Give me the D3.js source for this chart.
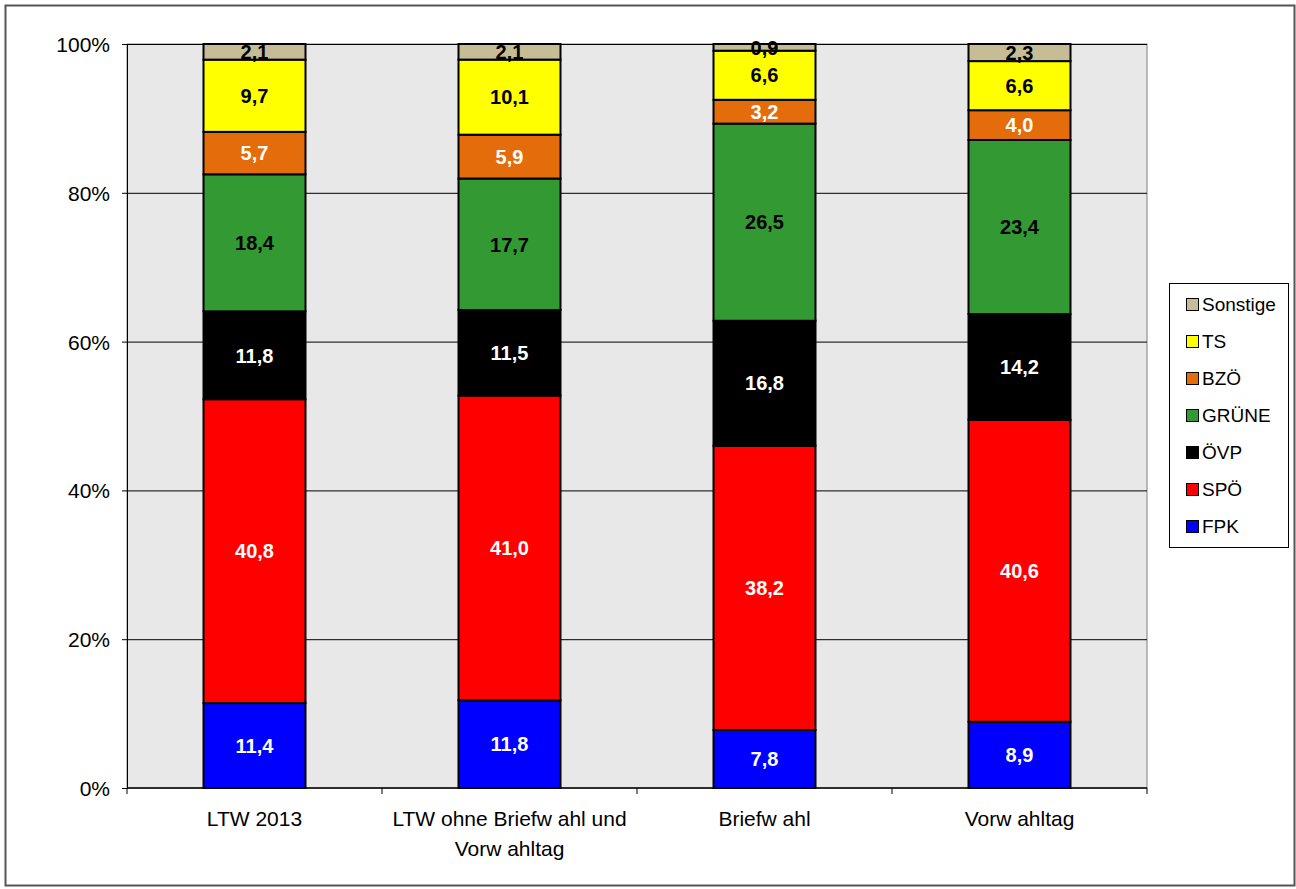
<!DOCTYPE html>
<html>
<head>
<meta charset="utf-8">
<script src="https://cdn.jsdelivr.net/npm/d3@7"></script>
<style>
  body { margin: 0; background: #fff; }
  svg text { font-family: "Liberation Sans", Arial, sans-serif; }
</style>
</head>
<body>
<div id="chart"></div>
<script>
// categories (x axis), each label split in lines
const categories = [
    ["LTW 2013"],
    ["LTW ohne Briefw ahl und", "Vorw ahltag"],
    ["Briefw ahl"],
    ["Vorw ahltag"]
];

// parties, bottom to top
const parties = ["FPK", "SPÖ", "ÖVP", "GRÜNE", "BZÖ", "TS", "Sonstige"];
const partyColors = ["#0000ff", "#ff0000", "#000000", "#339933", "#e46c0a", "#ffff00", "#c6bd97"];
const labelColors = ["#fff", "#fff", "#fff", "#000", "#fff", "#000", "#000"];

// values per category, in party order
const ltw2013 = [11.4, 40.8, 11.8, 18.4, 5.7, 9.7, 2.1];
const ltwOhne = [11.8, 41.0, 11.5, 17.7, 5.9, 10.1, 2.1];
const briefwahl = [7.8, 38.2, 16.8, 26.5, 3.2, 6.6, 0.9];
const vorwahltag = [8.9, 40.6, 14.2, 23.4, 4.0, 6.6, 2.3];
const seriesValues = [ltw2013, ltwOhne, briefwahl, vorwahltag];

const yTicks = [0, 20, 40, 60, 80, 100];

const width = 1296, height = 889;
const margin = { left: 127, right: 149, top: 44, bottom: 101 };

const svg = d3.select('#chart').append('svg')
    .attr('width', width)
    .attr('height', height);

// outer frame
svg.append('rect')
    .attr('x', 5.5).attr('y', 5.5)
    .attr('width', 1289).attr('height', 880)
    .attr('fill', '#fff')
    .attr('stroke', '#555')
    .attr('stroke-width', 2);

const xScale = d3.scaleBand()
    .domain(d3.range(categories.length))
    .range([margin.left, width - margin.right]);

const yScale = d3.scaleLinear()
    .domain([0, 100])
    .range([height - margin.bottom, margin.top]);

// plot background
svg.append('rect')
    .attr('x', margin.left).attr('y', margin.top)
    .attr('width', width - margin.left - margin.right)
    .attr('height', height - margin.top - margin.bottom)
    .attr('fill', '#e8e8e8')
    .attr('stroke', '#808080')
    .attr('stroke-width', 1);

// gridlines
svg.selectAll('.grid')
    .data(yTicks.slice(1))
    .join('line')
    .attr('x1', margin.left).attr('x2', width - margin.right)
    .attr('y1', d => yScale(d) + 0.5).attr('y2', d => yScale(d) + 0.5)
    .attr('stroke', '#000')
    .attr('stroke-width', 1);

// stacked (100%) data
const rows = seriesValues.map(vals => {
    const total = d3.sum(vals);
    let o = {};
    parties.forEach((p, i) => { o[p] = vals[i] / total * 100; o[p + '_raw'] = vals[i]; });
    return o;
});
const stacked = d3.stack().keys(parties)(rows);

const barWidth = 102;
const layers = svg.selectAll('.layer')
    .data(stacked)
    .join('g')
    .attr('fill', (d, i) => partyColors[i]);

layers.selectAll('rect')
    .data(d => d)
    .join('rect')
    .attr('x', (d, j) => xScale(j) + xScale.bandwidth() / 2 - barWidth / 2)
    .attr('y', d => yScale(d[1]))
    .attr('width', barWidth)
    .attr('height', d => yScale(d[0]) - yScale(d[1]))
    .attr('stroke', '#000')
    .attr('stroke-width', 2);

// value labels
stacked.forEach((layer, i) => {
    svg.append('g').selectAll('text')
        .data(layer)
        .join('text')
        .attr('x', (d, j) => xScale(j) + xScale.bandwidth() / 2)
        .attr('y', d => (yScale(d[0]) + yScale(d[1])) / 2)
        .attr('dy', '0.36em')
        .attr('text-anchor', 'middle')
        .attr('font-size', 20)
        .attr('font-weight', 'bold')
        .attr('fill', labelColors[i])
        .text(d => d3.format('.1f')(d.data[parties[i] + '_raw']).replace('.', ','));
});

// y axis
const yAxis = svg.append('g')
    .attr('transform', `translate(${margin.left},0)`)
    .call(d3.axisLeft(yScale).tickValues(yTicks).tickSize(5).tickFormat(d => d + '%'));
yAxis.select('.domain').attr('stroke', '#000');
yAxis.selectAll('.tick line').attr('stroke', '#000');
yAxis.selectAll('.tick text')
    .attr('x', -17)
    .attr('dy', '0.36em')
    .attr('font-size', 21)
    .attr('font-family', '"Liberation Sans", Arial, sans-serif')
    .attr('fill', '#000');

// x axis
const xAxisY = height - margin.bottom;
svg.append('line')
    .attr('x1', margin.left).attr('x2', width - margin.right)
    .attr('y1', xAxisY).attr('y2', xAxisY)
    .attr('stroke', '#000').attr('stroke-width', 1.5);
svg.selectAll('.xtick')
    .data(d3.range(categories.length + 1))
    .join('line')
    .attr('x1', d => d < categories.length ? xScale(d) : xScale(d - 1) + xScale.bandwidth())
    .attr('x2', d => d < categories.length ? xScale(d) : xScale(d - 1) + xScale.bandwidth())
    .attr('y1', xAxisY).attr('y2', xAxisY + 6)
    .attr('stroke', '#000');

svg.selectAll('.xlabel')
    .data(categories)
    .join('text')
    .attr('x', (d, j) => xScale(j) + xScale.bandwidth() / 2)
    .attr('y', xAxisY + 38)
    .attr('text-anchor', 'middle')
    .attr('font-size', 21)
    .attr('fill', '#000')
    .selectAll('tspan')
    .data(d => d)
    .join('tspan')
    .attr('x', function() { return this.parentNode.getAttribute('x'); })
    .attr('dy', (d, k) => k === 0 ? 0 : 30)
    .text(d => d);

// legend
const legend = svg.append('g');
legend.append('rect')
    .attr('x', 1169.5).attr('y', 283.5)
    .attr('width', 119).attr('height', 264)
    .attr('fill', '#fff')
    .attr('stroke', '#000');

const legendItems = parties.slice().reverse();
const legendY = d3.scaleLinear().domain([0, legendItems.length - 1]).range([304.5, 526.5]);
const li = legend.selectAll('.li')
    .data(legendItems)
    .join('g')
    .attr('transform', (d, k) => `translate(1186,${legendY(k)})`);
li.append('rect')
    .attr('x', 0.5).attr('y', -6)
    .attr('width', 12).attr('height', 12)
    .attr('fill', d => partyColors[parties.indexOf(d)])
    .attr('stroke', '#000');
li.append('text')
    .attr('x', 16).attr('y', 0)
    .attr('dy', '0.36em')
    .attr('font-size', 19)
    .attr('fill', '#000')
    .text(d => d);
</script>
</body>
</html>
